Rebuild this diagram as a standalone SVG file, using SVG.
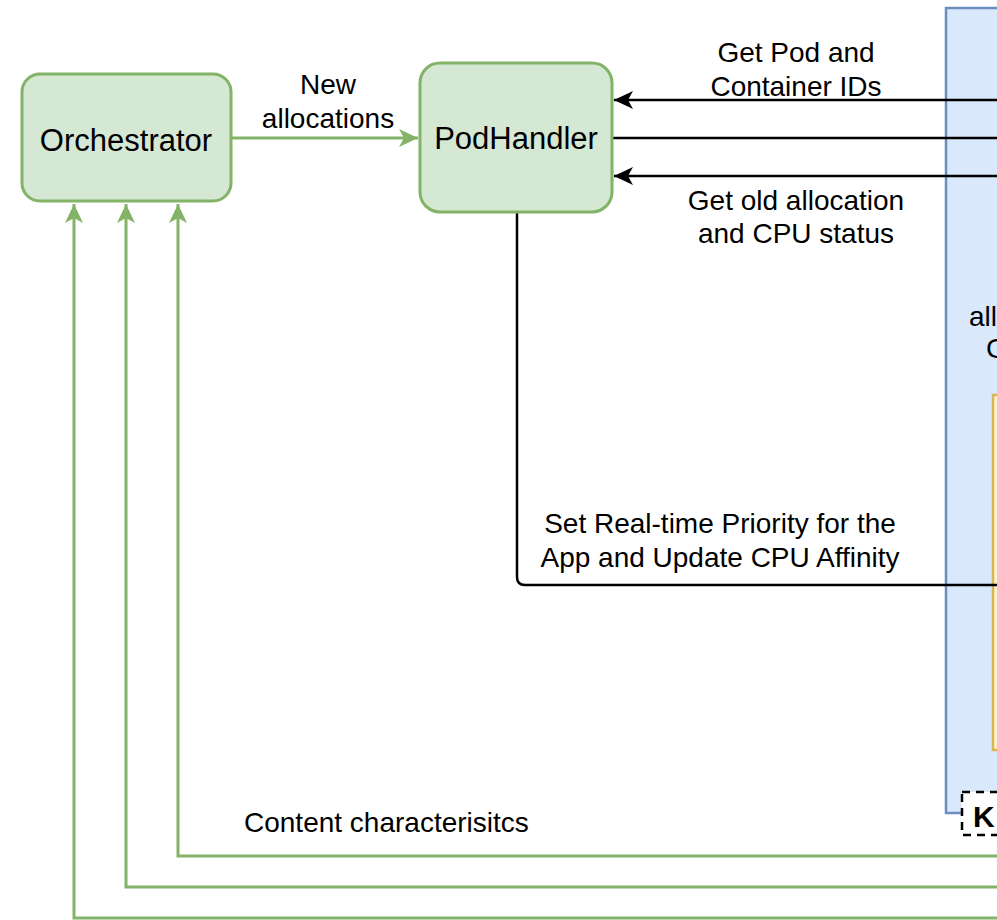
<svg xmlns="http://www.w3.org/2000/svg" width="997" height="920" viewBox="0 0 997 920">
<style>
.node{fill:#d5e8d4;stroke:#82b366;stroke-width:3}
.nt{font-family:"Liberation Sans",Arial,sans-serif;font-size:31px;fill:#000;text-anchor:middle}
.lbl{font-family:"Liberation Sans",Arial,sans-serif;font-size:28px;fill:#000;text-anchor:middle}
.g{fill:none;stroke:#82b366;stroke-width:3}
.b{fill:none;stroke:#000;stroke-width:2.5}
</style>
<defs>
<marker id="ag" markerUnits="userSpaceOnUse" markerWidth="20" markerHeight="18" refX="19" refY="9" orient="auto">
<path d="M0,0 L19,9 L0,18 L5,9 Z" fill="#82b366"/>
</marker>
<marker id="ab" markerUnits="userSpaceOnUse" markerWidth="20" markerHeight="18" refX="19" refY="9" orient="auto">
<path d="M0,0 L19,9 L0,18 L5,9 Z" fill="#000"/>
</marker>
</defs>
<rect width="997" height="920" fill="#fff"/>
<g id="container">
<rect x="946" y="8" width="80" height="805" fill="#dae8fc" stroke="#6c8ebf" stroke-width="2.5"/>
<text x="969" y="326" font-family="Liberation Sans,Arial,sans-serif" font-size="28" fill="#000">all</text>
<text x="986" y="358" font-family="Liberation Sans,Arial,sans-serif" font-size="28" fill="#000">C</text>
</g>
<g id="inner">
<rect x="993" y="395" width="40" height="355" fill="#fff2cc" stroke="#d6b656" stroke-width="2.5"/>
</g>
<g id="legend">
<rect x="962" y="792" width="60" height="43" fill="#fff" stroke="#000" stroke-width="2.5" stroke-dasharray="8,6"/>
<text x="973" y="827" font-family="Liberation Sans,Arial,sans-serif" font-size="30" font-weight="bold" fill="#000">K</text>
</g>
<g id="connectors">
<path class="g" d="M231,138 H418" marker-end="url(#ag)"/>
<path class="g" d="M997,918 H74 V204" marker-end="url(#ag)"/>
<path class="g" d="M997,887 H126 V204" marker-end="url(#ag)"/>
<path class="g" d="M997,856 H178 V204" marker-end="url(#ag)"/>
<path class="b" d="M997,100 H614" marker-end="url(#ab)"/>
<path class="b" d="M613,138 H997"/>
<path class="b" d="M997,176 H614" marker-end="url(#ab)"/>
<path class="b" d="M517,213 V577 Q517,585 525,585 H997"/>
<text class="lbl" x="328" y="94">New</text>
<text class="lbl" x="328" y="128">allocations</text>
<text class="lbl" x="796" y="62">Get Pod and</text>
<text class="lbl" x="796" y="96">Container IDs</text>
<text class="lbl" x="796" y="210">Get old allocation</text>
<text class="lbl" x="796" y="243">and CPU status</text>
<text class="lbl" x="720" y="533">Set Real-time Priority for the</text>
<text class="lbl" x="720" y="567">App and Update CPU Affinity</text>
<text class="lbl" x="244" y="832" style="text-anchor:start">Content characterisitcs</text>
</g>
<g id="orchestrator">
<rect class="node" x="22" y="74" width="209" height="127" rx="18"/>
<text class="nt" x="126" y="151">Orchestrator</text>
</g>
<g id="podhandler">
<rect class="node" x="420" y="63" width="192" height="149" rx="20"/>
<text class="nt" x="516" y="149">PodHandler</text>
</g>
</svg>
